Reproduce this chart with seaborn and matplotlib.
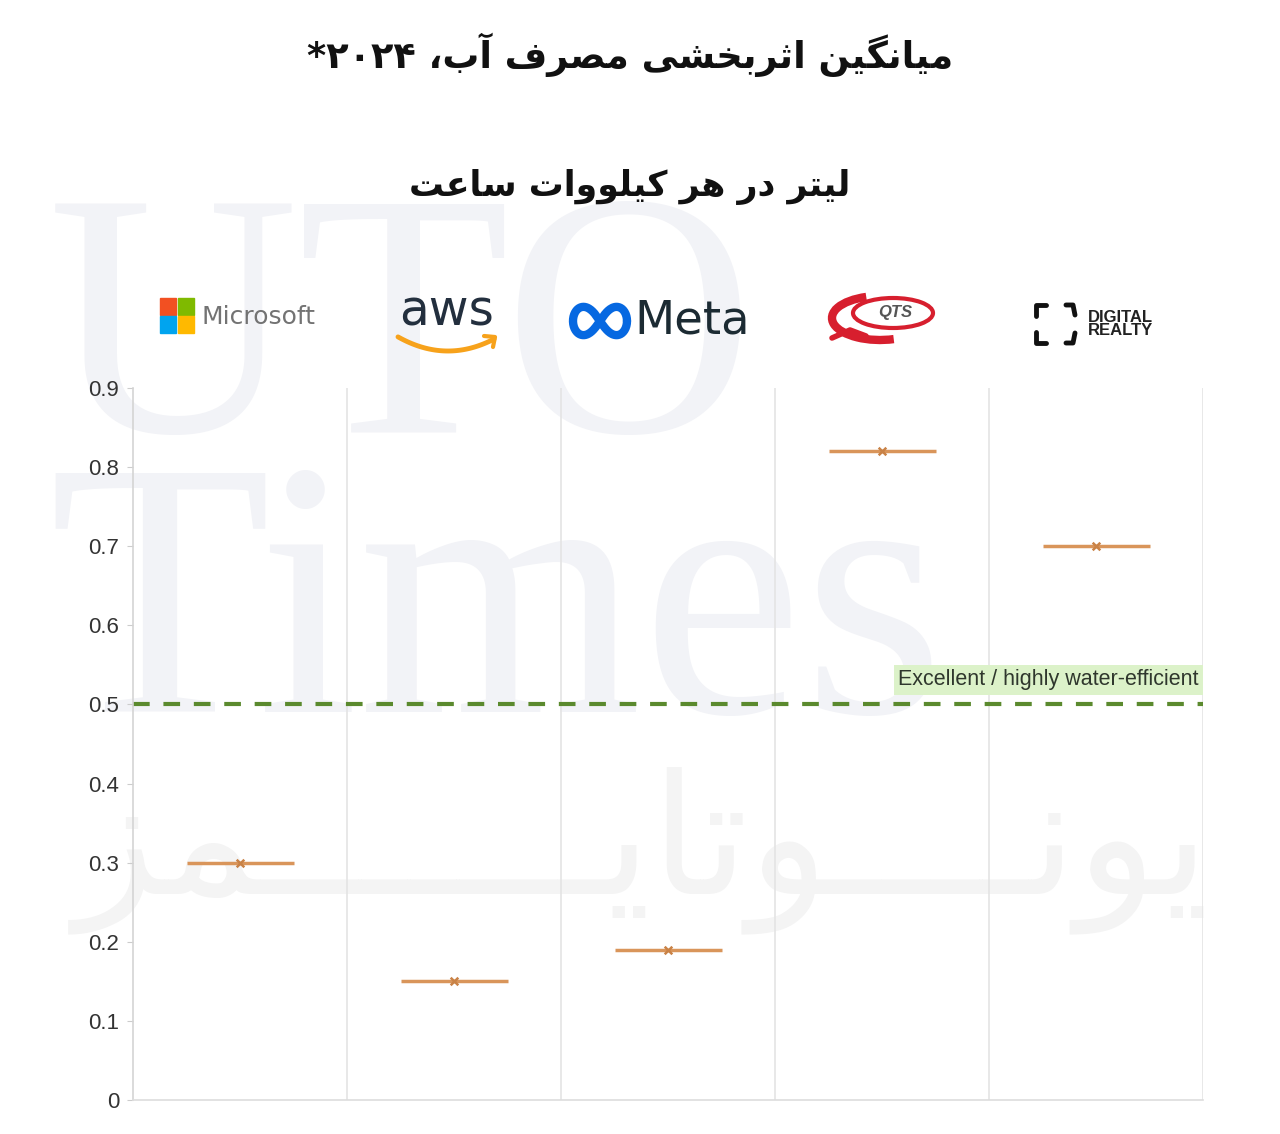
import numpy as np
import pandas as pd
import matplotlib
matplotlib.use("Agg")
import matplotlib.pyplot as plt
import matplotlib.patches as mpatches
from matplotlib.lines import Line2D
import seaborn as sns

# data
companies = ["Microsoft", "AWS", "Meta", "QTS", "Digital Realty"]
wue = [0.30, 0.15, 0.19, 0.82, 0.70]
yticks = [0, 0.1, 0.2, 0.3, 0.4, 0.5, 0.6, 0.7, 0.8, 0.9]
ytick_labels = ["0", "0.1", "0.2", "0.3", "0.4", "0.5", "0.6", "0.7", "0.8", "0.9"]
threshold = 0.5
threshold_label = "Excellent / highly water-efficient"

title = "میانگین اثربخشی مصرف آب، ۲۰۲۴*"
subtitle = "لیتر در هر کیلووات ساعت"
watermark_fa = "یونــــوتایـــــــمز"

# --- simple persian shaping (matplotlib has no arabic text layout) ---
# isolated, final, initial, medial ; None => letter does not join to the next one
FORMS = {
    "ا": ("\uFE8D", "\uFE8E", None, None),
    "آ": ("\uFE81", "\uFE82", None, None),
    "ب": ("\uFE8F", "\uFE90", "\uFE91", "\uFE92"),
    "ت": ("\uFE95", "\uFE96", "\uFE97", "\uFE98"),
    "ث": ("\uFE99", "\uFE9A", "\uFE9B", "\uFE9C"),
    "خ": ("\uFEA5", "\uFEA6", "\uFEA7", "\uFEA8"),
    "د": ("\uFEA9", "\uFEAA", None, None),
    "ر": ("\uFEAD", "\uFEAE", None, None),
    "ز": ("\uFEAF", "\uFEB0", None, None),
    "س": ("\uFEB1", "\uFEB2", "\uFEB3", "\uFEB4"),
    "ش": ("\uFEB5", "\uFEB6", "\uFEB7", "\uFEB8"),
    "ص": ("\uFEB9", "\uFEBA", "\uFEBB", "\uFEBC"),
    "ع": ("\uFEC9", "\uFECA", "\uFECB", "\uFECC"),
    "ف": ("\uFED1", "\uFED2", "\uFED3", "\uFED4"),
    "ل": ("\uFEDD", "\uFEDE", "\uFEDF", "\uFEE0"),
    "م": ("\uFEE1", "\uFEE2", "\uFEE3", "\uFEE4"),
    "ن": ("\uFEE5", "\uFEE6", "\uFEE7", "\uFEE8"),
    "ه": ("\uFEE9", "\uFEEA", "\uFEEB", "\uFEEC"),
    "و": ("\uFEED", "\uFEEE", None, None),
    "ی": ("\uFBFC", "\uFBFD", "\uFBFE", "\uFBFF"),
    "ک": ("\uFB8E", "\uFB8F", "\uFB90", "\uFB91"),
    "گ": ("\uFB92", "\uFB93", "\uFB94", "\uFB95"),
    "ـ": ("ـ", "ـ", "ـ", "ـ"),
}
DIGITS = set("0123456789۰۱۲۳۴۵۶۷۸۹")


def fa(text):
    out = []
    for i, c in enumerate(text):
        if c not in FORMS:
            out.append(c)
            continue
        prev = text[i - 1] if i > 0 else ""
        nxt = text[i + 1] if i + 1 < len(text) else ""
        j_prev = prev in FORMS and FORMS[prev][2] is not None
        j_next = FORMS[c][2] is not None and nxt in FORMS
        iso, fin, ini, med = FORMS[c]
        if j_prev and j_next:
            out.append(med)
        elif j_prev:
            out.append(fin)
        elif j_next:
            out.append(ini)
        else:
            out.append(iso)
    vis = out[::-1]
    # numbers keep left-to-right order
    res, run = [], []
    for c in vis:
        if c in DIGITS:
            run.append(c)
        else:
            res.extend(run[::-1])
            run = []
            res.append(c)
    res.extend(run[::-1])
    return "".join(res)


sns.set_style("white")
plt.rcParams["font.family"] = ["Liberation Sans", "DejaVu Sans"]

W, H = 1280, 1134
fig = plt.figure(figsize=(12.8, 11.34), dpi=100)


def fx(x):
    return x / W


def fy(y):
    return 1 - y / H


# watermark (drawn under the axes)
fig.text(fx(48), fy(432), "UTO", family="Liberation Serif", fontsize=250,
         color="#f2f3f7", zorder=0)
fig.text(fx(48), fy(712), "Times", family="Liberation Serif", fontsize=262,
         color="#f2f3f7", zorder=0)
fig.text(fx(642), fy(850), fa(watermark_fa), family="DejaVu Sans", fontsize=120,
         color="#f4f4f4", ha="center", va="center", zorder=0)

# titles
fig.text(0.492, fy(55), fa(title), family="DejaVu Sans", fontsize=26.5,
         fontweight="bold", ha="center", va="center", color="#111111")
fig.text(0.492, fy(187), fa(subtitle), family="DejaVu Sans", fontsize=25,
         fontweight="bold", ha="center", va="center", color="#111111")

# logos (as text + simple shapes)
for (x0, y0, col) in [(160, 298, "#f25022"), (178, 298, "#7fba00"),
                      (160, 316, "#00a4ef"), (178, 316, "#ffb900")]:
    fig.patches.append(mpatches.Rectangle((fx(x0), fy(y0 + 17)), fx(16), 17 / H,
                                          transform=fig.transFigure, color=col))
fig.text(fx(202), fy(317), "Microsoft", family="DejaVu Sans", fontsize=18,
         color="#737373", va="center")

fig.text(fx(447), fy(311), "aws", family="DejaVu Sans", fontsize=35,
         color="#232f3e", ha="center", va="center")
ax_ = np.linspace(398, 494, 60)
ay_ = 351 - 13 * ((ax_ - 448) / 48) ** 2
fig.lines.append(Line2D(fx(ax_), fy(ay_), transform=fig.transFigure,
                        color="#f7a21b", lw=3.5, solid_capstyle="round"))
fig.lines.append(Line2D(fx(np.array([484, 495, 493])), fy(np.array([336, 337, 347])),
                        transform=fig.transFigure, color="#f7a21b", lw=3))

t = np.linspace(0, 2 * np.pi, 200)
lx = 600 + 27 * np.cos(t) / (1 + np.sin(t) ** 2)
ly = 321 + 40 * np.sin(t) * np.cos(t) / (1 + np.sin(t) ** 2)
fig.lines.append(Line2D(fx(lx), fy(ly), transform=fig.transFigure,
                        color="#0668e1", lw=6))
fig.text(fx(634), fy(321), "Meta", family="DejaVu Sans", fontsize=33.5,
         color="#1c2b33", va="center")

fig.patches.append(mpatches.Ellipse((fx(893), fy(313)), 80 / W, 30 / H,
                                    transform=fig.transFigure, fill=False,
                                    edgecolor="#d71f2e", lw=3))
fig.patches.append(mpatches.Arc((fx(880), fy(318)), 96 / W, 44 / H, theta1=120,
                                theta2=300, transform=fig.transFigure,
                                edgecolor="#d71f2e", lw=6))
fig.lines.append(Line2D(fx(np.array([832, 850, 866])), fy(np.array([338, 330, 336])),
                        transform=fig.transFigure, color="#d71f2e", lw=4))
fig.text(fx(895), fy(313), "QTS", fontsize=12, fontstyle="italic", fontweight="bold",
         color="#555555", ha="center", va="center")

for pts in [[(1036, 316), (1036, 305), (1046, 305)],
            [(1066, 305), (1073, 305), (1075, 315)],
            [(1036, 332), (1036, 343), (1046, 343)],
            [(1075, 333), (1073, 343), (1066, 343)]]:
    px, py = zip(*pts)
    fig.lines.append(Line2D(fx(np.array(px)), fy(np.array(py)),
                            transform=fig.transFigure, color="#111111", lw=3.5))
fig.text(fx(1088), fy(324), "DIGITAL\nREALTY", family=["Liberation Sans Narrow", "Liberation Sans"],
         fontsize=12, fontweight="bold", color="#222222", va="center", linespacing=0.85)

# plot area
ax = fig.add_axes([fx(133), fy(1100), fx(1203) - fx(133), (1100 - 388) / H])
ax.set_facecolor("none")
ax.set_zorder(2)

df = pd.DataFrame({"company": companies, "wue": wue})
pos = np.arange(len(companies))
ax.hlines(df["wue"], pos - 0.25, pos + 0.25, color="#d9955a", lw=2.5, zorder=3)
sns.scatterplot(data=df, x="company", y="wue", marker="x", s=30, color="#c98246",
                linewidth=1.8, ax=ax, zorder=4, legend=False)

ax.axhline(threshold, color="#5b8a2e", lw=3, dashes=(4, 3.3), zorder=2)
ax.text(len(companies) - 0.52, threshold + 0.031, threshold_label, ha="right", va="center",
        fontsize=15.5, color="#2f372d", zorder=5,
        bbox=dict(boxstyle="square,pad=0.2", fc="#dcf2c9", ec="none"))

ax.set_xlim(-0.5, len(companies) - 0.5)
ax.set_ylim(0, 0.9)
ax.set_xticks([])
for xv in np.arange(len(companies)) + 0.5:
    ax.axvline(xv, color="#e4e4e4", lw=1.2, zorder=1)
ax.set_yticks(yticks)
ax.set_yticklabels(ytick_labels, fontsize=16, color="#333333")
ax.tick_params(axis="y", length=4, color="#cccccc", pad=6, left=True)
ax.set_xlabel("")
ax.set_ylabel("")
for s in ["top", "right"]:
    ax.spines[s].set_visible(False)
ax.spines["left"].set_color("#d4d4d4")
ax.spines["bottom"].set_color("#dddddd")
ax.spines["left"].set_linewidth(1.2)
ax.spines["bottom"].set_linewidth(1.2)

fig.savefig("out.png", dpi=100)
